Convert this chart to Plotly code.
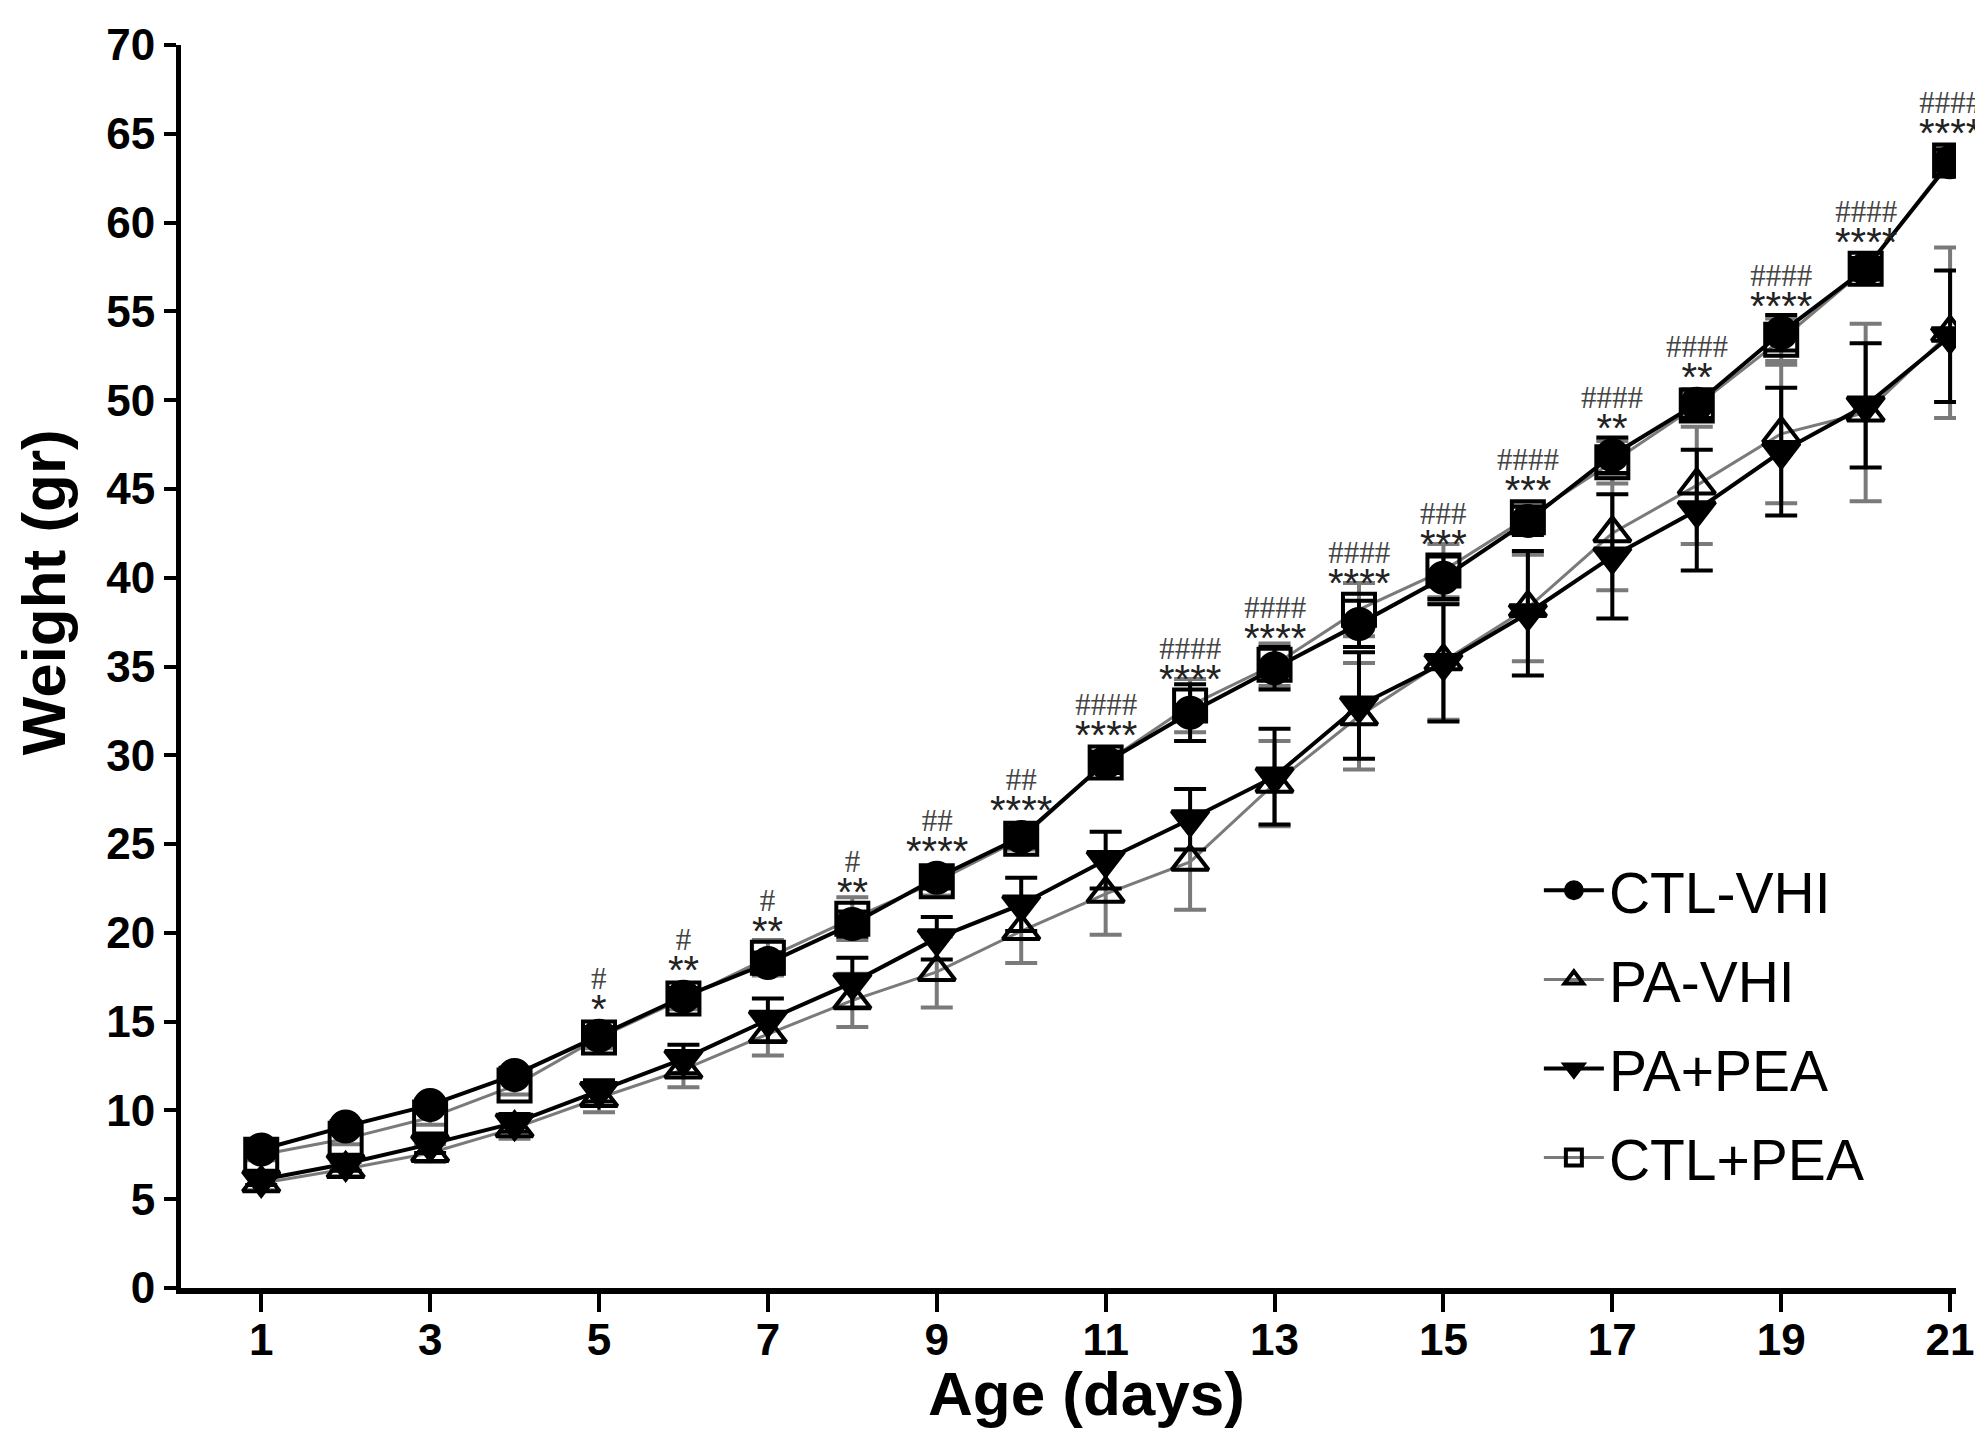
import plotly.graph_objects as go

# --- dados ---
dias = list(range(1, 22))

ctl_vhi = [7.8, 9.1, 10.3, 12.0, 14.2, 16.4, 18.3, 20.5, 23.1, 25.4, 29.6,
           32.4, 34.9, 37.4, 40.0, 43.2, 46.9, 49.8, 53.8, 57.4, 63.4]
ctl_vhi_err = [0.3, 0.3, 0.3, 0.4, 0.5, 0.5, 0.6, 0.7, 0.6, 0.6, 0.6,
               1.6, 1.2, 1.3, 1.2, 0.8, 1.0, 0.8, 1.0, 0.6, 0.7]

ctl_pea = [7.5, 8.4, 9.6, 11.4, 14.1, 16.3, 18.6, 20.8, 22.9, 25.3, 29.6,
           32.8, 35.1, 38.2, 40.4, 43.4, 46.5, 49.7, 53.4, 57.4, 63.5]
ctl_pea_err = [0.3, 0.3, 0.4, 0.5, 0.6, 0.6, 1.0, 1.2, 0.8, 0.6, 0.6,
               1.5, 1.2, 1.5, 1.5, 0.8, 1.2, 0.8, 1.2, 0.6, 0.7]

pa_vhi = [5.9, 6.7, 7.6, 9.0, 10.7, 12.3, 14.3, 16.2, 17.8, 20.1, 22.2,
          24.0, 28.4, 32.2, 35.3, 38.3, 42.5, 45.2, 48.1, 49.3, 53.8]
pa_vhi_err = [0.4, 0.4, 0.5, 0.6, 0.8, 1.0, 1.2, 1.5, 2.0, 1.8, 2.3,
              2.7, 2.4, 3.0, 3.3, 3.0, 3.2, 3.3, 3.9, 5.0, 4.8]

pa_pea = [6.1, 7.0, 8.1, 9.3, 11.1, 12.9, 15.1, 17.2, 19.7, 21.6, 24.1,
          26.4, 28.8, 32.8, 35.2, 38.0, 41.2, 43.8, 47.1, 49.7, 53.6]
pa_pea_err = [0.3, 0.4, 0.5, 0.5, 0.6, 0.8, 1.2, 1.4, 1.2, 1.5, 1.6,
              1.7, 2.7, 3.0, 3.3, 3.5, 3.5, 3.4, 3.6, 3.5, 3.7]

# significancia (dias 5..21)
sig_dias = list(range(5, 22))
sig_estrelas = ["*", "**", "**", "**", "****", "****", "****", "****", "****",
                "****", "***", "***", "**", "**", "****", "****", "****"]
sig_hash = ["#", "#", "#", "#", "##", "##", "####", "####", "####",
            "####", "###", "####", "####", "####", "####", "####", "####"]

x_ticks = list(range(1, 22, 2))
y_ticks = list(range(0, 71, 5))

PRETO = "black"
CINZA = "#7a7a7a"

fig = go.Figure()


def add_serie(y, err, nome, simbolo, tam, cor_linha, cor_erro, larg_linha, rank):
    fig.add_trace(go.Scatter(
        x=dias, y=y, name=nome, mode="lines+markers",
        line=dict(color=cor_linha, width=larg_linha),
        marker=dict(symbol=simbolo, size=tam, color=PRETO,
                    line=dict(color=PRETO, width=4)),
        error_y=dict(type="data", array=err, color=cor_erro,
                     thickness=4, width=16),
        legendrank=rank, legendgroup=nome,
    ))


add_serie(pa_vhi, pa_vhi_err, "PA-VHI", "triangle-up-open", 32, CINZA, CINZA, 3, 2)
add_serie(pa_pea, pa_pea_err, "PA+PEA", "triangle-down", 32, PRETO, PRETO, 4, 3)
add_serie(ctl_pea, ctl_pea_err, "CTL+PEA", "square-open", 32, CINZA, CINZA, 3, 4)
add_serie(ctl_vhi, ctl_vhi_err, "CTL-VHI", "circle", 30, PRETO, PRETO, 4, 1)

# anotacoes de significancia (# em cima, * embaixo) acima dos grupos controle
for d, est, hs in zip(sig_dias, sig_estrelas, sig_hash):
    y = max(ctl_vhi[d - 1], ctl_pea[d - 1])
    txt = ("<span style='font-family:Liberation Serif, Times New Roman;font-size:31px;"
           "color:#444'>" + hs + "</span><br>"
           "<span style='font-size:40px'>" + est + "</span>")
    fig.add_annotation(x=d, y=y, text=txt, showarrow=False, yanchor="bottom", yshift=3,
                       font=dict(family="Liberation Sans, Arial", size=26, color="#222"))

# titulos dos eixos
fig.add_annotation(x=-0.077, y=0.56, xref="paper", yref="paper", text="<b>Weight (gr)</b>",
                   textangle=-90, showarrow=False, xanchor="center", yanchor="middle",
                   font=dict(family="Liberation Sans, Arial", size=62, color="black"))
fig.add_annotation(x=0.51, y=-0.085, xref="paper", yref="paper", text="<b>Age (days)</b>",
                   showarrow=False, xanchor="center", yanchor="middle",
                   font=dict(family="Liberation Sans, Arial", size=62, color="black"))

tick_font = dict(family="Liberation Sans, Arial", size=44, color="black", weight="bold")

fig.update_xaxes(range=[0.05, 21.07], tickvals=x_ticks, ticks="outside", ticklen=18,
                 tickwidth=4, tickcolor="black", showline=True, linewidth=6,
                 linecolor="black", showgrid=False, zeroline=False, tickfont=tick_font,
                 ticklabelstandoff=-10)
fig.update_yaxes(range=[0, 70], tickvals=y_ticks, ticks="outside", ticklen=12,
                 tickwidth=4, tickcolor="black", showline=True, linewidth=5,
                 linecolor="black", showgrid=False, zeroline=False, tickfont=tick_font)

fig.update_layout(
    width=1983, height=1432,
    margin=dict(l=173, r=35, t=30, b=152),
    paper_bgcolor="white", plot_bgcolor="white",
    legend=dict(x=0.765, y=0.355, xanchor="left", yanchor="top",
                font=dict(family="Liberation Sans, Arial", size=57, color="black"),
                tracegroupgap=12, itemwidth=60, bgcolor="rgba(0,0,0,0)"),
)

fig.write_html("out.html")
